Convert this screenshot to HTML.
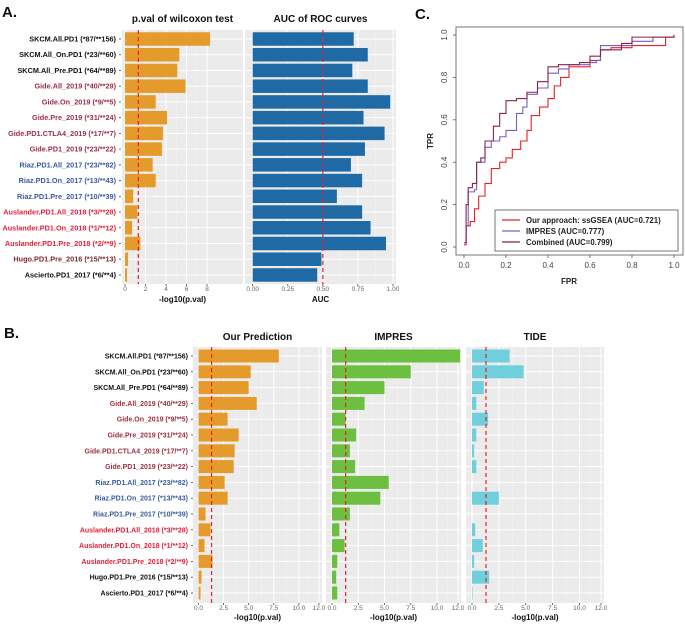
<!DOCTYPE html>
<html><head><meta charset="utf-8"><style>
html,body{margin:0;padding:0;background:#fff;}
svg{display:block;font-family:"Liberation Sans",sans-serif;}
</style></head><body>
<svg id="fig" width="685" height="625" viewBox="0 0 685 625" xmlns="http://www.w3.org/2000/svg"></svg>
<script>
const cohorts=["SKCM.All.PD1 (*87/**156)","SKCM.All_On.PD1 (*23/**60)","SKCM.All_Pre.PD1 (*64/**89)","Gide.All_2019 (*40/**29)","Gide.On_2019 (*9/**5)","Gide.Pre_2019 (*31/**24)","Gide.PD1.CTLA4_2019 (*17/**7)","Gide.PD1_2019 (*23/**22)","Riaz.PD1.All_2017 (*23/**82)","Riaz.PD1.On_2017 (*13/**43)","Riaz.PD1.Pre_2017 (*10/**39)","Auslander.PD1.All_2018 (*3/**28)","Auslander.PD1.On_2018 (*1/**12)","Auslander.PD1.Pre_2018 (*2/**9)","Hugo.PD1.Pre_2016 (*15/**13)","Ascierto.PD1_2017 (*6/**4)"];
const groupA=["k","k","k","g","g","g","g","g","r","r","r","a","a","a","h","k"];
const pvalA=[8.3,5.3,5.1,5.9,3.0,4.1,3.7,3.6,2.7,3.0,0.8,1.2,0.7,1.5,0.3,0.2];
const aucA=[0.72,0.82,0.71,0.82,0.98,0.79,0.94,0.80,0.70,0.78,0.60,0.78,0.84,0.95,0.49,0.46];
const oursB=[8.0,5.2,5.0,5.8,2.9,4.0,3.6,3.5,2.6,2.9,0.7,1.2,0.6,1.4,0.3,0.2];
const impresB=[12.2,7.5,5.0,3.1,1.3,2.3,1.7,2.2,5.4,4.6,1.7,0.7,1.2,0.5,0.4,0.5];
const tideB=[3.5,4.8,1.1,0.4,1.5,0.4,0.2,0.4,0,2.5,0,0.3,1.0,0.2,1.6,0.05];
const pTicksA=[0,2,4,6,8], aucTicks=[0,0.25,0.5,0.75,1], bTicks=[0,2.5,5,7.5,10,12];
const rocRedX=[0,0.01,0.03,0.05,0.07,0.1,0.13,0.17,0.2,0.23,0.27,0.3,0.32,0.36,0.4,0.43,0.46,0.5,0.6,0.65,0.7,0.8,0.95,0.96,1];
const rocRedY=[0.01,0.1,0.12,0.18,0.24,0.3,0.37,0.4,0.42,0.46,0.5,0.55,0.62,0.66,0.7,0.76,0.8,0.85,0.88,0.93,0.94,0.95,0.95,0.99,1];
const rocImpX=[0,0.01,0.02,0.05,0.06,0.1,0.13,0.17,0.2,0.25,0.28,0.3,0.35,0.4,0.45,0.5,0.6,0.63,0.65,0.8,0.9,1];
const rocImpY=[0.02,0.1,0.26,0.27,0.4,0.47,0.5,0.52,0.55,0.63,0.66,0.72,0.75,0.82,0.84,0.86,0.87,0.88,0.95,0.97,0.99,1];
const rocCombX=[0,0.01,0.02,0.04,0.06,0.08,0.1,0.14,0.17,0.2,0.25,0.3,0.35,0.4,0.45,0.55,0.6,0.65,0.75,0.8,1];
const rocCombY=[0.02,0.2,0.28,0.3,0.4,0.42,0.5,0.57,0.63,0.69,0.7,0.73,0.78,0.85,0.86,0.87,0.9,0.93,0.96,0.99,1];
const rocTicks=[0,0.2,0.4,0.6,0.8,1];

const svg=document.getElementById('fig');const NS="http://www.w3.org/2000/svg";
function E(tag,at,txt){const e=document.createElementNS(NS,tag);for(const k in at)e.setAttribute(k,at[k]);if(txt!==undefined)e.textContent=txt;svg.appendChild(e);return e;}
const col={k:"#111",g:"#9b2f45",r:"#3b5a9c",a:"#e0223c",h:"#7a2a2a"};
function fmt(v,d){return v.toFixed(d);}

function panel(name,x0,x1,top,bot,axis,ticks,dec,vals,color,rowY,barH,lineV,title,titleY,xt,xtY,tlY){
  const r=E('rect',{x:x0,y:top,width:x1-x0,height:bot-top,fill:"#ebebeb"});
  
  for(let i=0;i<ticks.length-1;i++){const m=axis((ticks[i]+ticks[i+1])/2);E('line',{x1:m,x2:m,y1:top,y2:bot,stroke:"#f6f6f6","stroke-width":0.5});}
  ticks.forEach(t=>{const x=axis(t);const g=E('line',{x1:x,x2:x,y1:top,y2:bot,stroke:"#fff","stroke-width":1});
    
    E('line',{x1:x,x2:x,y1:bot,y2:bot+2,stroke:"#444","stroke-width":0.8});
    const tl=E('text',{x:x,y:tlY,"font-size":6.5,fill:"#666","text-anchor":"middle"},fmt(t,dec));
    });
  vals.forEach((v,i)=>{const y=rowY(i);E('line',{x1:x0,x2:x1,y1:y,y2:y,stroke:"#fff","stroke-width":1});
    const b=E('rect',{x:axis(0),y:y-barH/2,width:Math.max(0,axis(v)-axis(0)),height:barH,fill:color});
    });
  const lx=axis(lineV);
  const l=E('line',{x1:lx,x2:lx,y1:top,y2:bot,stroke:"#e8202a","stroke-width":1.2,"stroke-dasharray":"4,3"});
  
  const t=E('text',{x:(x0+x1)/2,y:titleY,"font-size":10,"font-weight":"bold","text-anchor":"middle",fill:"#111"},title);
  
  const a=E('text',{x:(x0+x1)/2,y:xtY,"font-size":8,"font-weight":"bold","text-anchor":"middle",fill:"#111"},xt);
  
}
function labels(name,xr,rowY,size,groups){
  cohorts.forEach((c,i)=>{const y=rowY(i);
    const t=E('text',{x:xr,y:y+2.5,"font-size":size,"font-weight":"bold","text-anchor":"end",fill:col[groups[i]]},c);
    
    E('line',{x1:xr+3,x2:xr+5,y1:y,y2:y,stroke:"#444","stroke-width":0.8});});
}
const rowA=i=>39+i*15.73;
const pxA=v=>125+v*10.25, aucX=v=>252.7+v*140.3;
let L=E('text',{x:2,y:17,"font-size":15,"font-weight":"bold",fill:"#111"},"A.");
labels('panel-a',116,rowA,7.3,groupA);
panel('pval-a',122,243,30,284,pxA,pTicksA,0,pvalA,"#e59b2c",rowA,13.5,1.3,"p.val of wilcoxon test",22,"-log10(p.val)",302,291);
panel('auc-a',245,396,30,284,aucX,aucTicks,2,aucA,"#1f6aa5",rowA,13.5,0.5,"AUC of ROC curves",22,"AUC",302,291);
const rowB=i=>356+i*15.8;
L=E('text',{x:4,y:338,"font-size":15,"font-weight":"bold",fill:"#111"},"B.");
const groupB=groupA.map(g=>g==="h"?"k":g);
labels('panel-b',188,rowB,7,groupB);
const b1=v=>198.5+v*10.04,b2=v=>332+v*10.5,b3=v=>472+v*10.75;
panel('ours-b',193,322,347,603,b1,bTicks,1,oursB,"#e59b2c",rowB,13,1.3,"Our Prediction",340,"-log10(p.val)",620,610);
panel('impres-b',326,461,347,603,b2,bTicks,1,impresB,"#6cbf3f",rowB,13,1.3,"IMPRES",340,"-log10(p.val)",620,610);
panel('tide-b',466,604,347,603,b3,bTicks,1,tideB,"#6fcfdc",rowB,13,1.3,"TIDE",340,"-log10(p.val)",620,610);
L=E('text',{x:415,y:19,"font-size":15,"font-weight":"bold",fill:"#111"},"C.");
const cx=v=>464+v*210, cy=v=>247-v*212;
let box=E('rect',{x:456,y:27,width:227,height:228,fill:"none",stroke:"#555","stroke-width":0.8});

rocTicks.forEach(t=>{E('line',{x1:cx(t),x2:cx(t),y1:255,y2:258,stroke:"#555","stroke-width":0.8});
  let tl=E('text',{x:cx(t),y:268,"font-size":8,fill:"#444","text-anchor":"middle"},t.toFixed(1));
  E('line',{x1:453,x2:456,y1:cy(t),y2:cy(t),stroke:"#555","stroke-width":0.8});
  tl=E('text',{x:0,y:0,"font-size":8,fill:"#444","text-anchor":"middle",transform:`translate(447,${cy(t)}) rotate(-90)`},t.toFixed(1));});
let at=E('text',{x:569,y:284,"font-size":8,"font-weight":"bold","text-anchor":"middle",fill:"#222"},"FPR");
at=E('text',{x:0,y:0,"font-size":8,"font-weight":"bold","text-anchor":"middle",fill:"#222",transform:"translate(433,141) rotate(-90)"},"TPR");
function roc(name,xs,ys,c){let d="M"+cx(xs[0])+","+cy(ys[0]);for(let i=1;i<xs.length;i++){d+=" L"+cx(xs[i])+","+cy(ys[i-1])+" L"+cx(xs[i])+","+cy(ys[i]);}
  const p=E('path',{d:d,fill:"none",stroke:c,"stroke-width":1.1});}
roc('roc-ssgsea',rocRedX,rocRedY,"#e8202a");
roc('roc-impres',rocImpX,rocImpY,"#7b5bc4");
roc('roc-combined',rocCombX,rocCombY,"#8b2448");
const lg=E('rect',{x:495,y:210,width:183,height:41,fill:"#fff",stroke:"#555","stroke-width":0.8});
[["Our approach: ssGSEA (AUC=0.721)","#e8202a"],["IMPRES (AUC=0.777)","#7b5bc4"],["Combined (AUC=0.799)","#8b2448"]].forEach((e,i)=>{const y=220+i*11;
  E('line',{x1:502,x2:520,y1:y,y2:y,stroke:e[1],"stroke-width":1.2});
  const t=E('text',{x:526,y:y+3,"font-size":7.8,"font-weight":"bold",fill:"#222"},e[0]);});
</script>
</body></html>
